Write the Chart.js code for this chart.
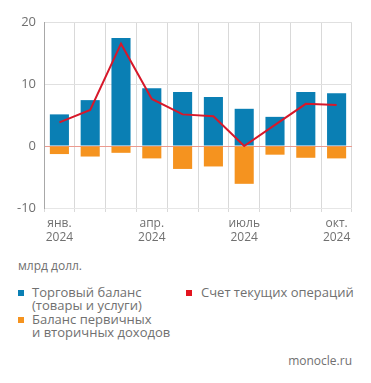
<!DOCTYPE html>
<html>
<head>
<meta charset="utf-8">
<script src="https://cdn.jsdelivr.net/npm/chart.js@4/dist/chart.umd.min.js"></script>
<style>
  html, body { margin: 0; padding: 0; background: #fff; }
  body { width: 371px; height: 383px; position: relative; overflow: hidden;
         font-family: "Open Sans", "Noto Sans", sans-serif; color: #707070; font-size: 13px; }
  #wrap { position: absolute; left: 0; top: 0; width: 371px; height: 250px; }
  .t { position: absolute; white-space: nowrap; line-height: 13px; }
  .sq { position: absolute; width: 6px; height: 6px; }
</style>
</head>
<body>
<div id="wrap"><canvas id="myChart" width="371" height="250"></canvas></div>

<div class="t" style="left:18px; top:259px; font-size:12px;">млрд долл.</div>

<div class="sq" style="left:18px; top:290px; background:#0a7fb4;"></div>
<div class="t" style="left:32px; top:286px;">Торговый баланс<br>(товары и услуги)</div>

<div class="sq" style="left:18px; top:317px; background:#f5931f;"></div>
<div class="t" style="left:32px; top:313px;">Баланс первичных<br>и вторичных доходов</div>

<div class="sq" style="left:186px; top:290px; background:#e3141f;"></div>
<div class="t" style="left:201px; top:286px;">Счет текущих операций</div>

<div class="t" style="right:19px; top:354px; font-size:12px;">monocle.ru</div>

<script>
// данные (млрд долл.)
let months = [["янв.", "2024"], "", "", ["апр.", "2024"], "", "", ["июль", "2024"], "", "", ["окт.", "2024"]];
let tradeBalance = [5.1, 7.4, 17.4, 9.3, 8.7, 7.9, 6.0, 4.7, 8.7, 8.5]; // торговый баланс
let incomeBalance = [-1.3, -1.7, -1.1, -2.0, -3.7, -3.3, -6.1, -1.4, -1.9, -2.0]; // первичные и вторичные доходы
let currentAccount = [3.8, 5.8, 16.5, 7.6, 5.1, 4.8, 0.0, 3.4, 6.8, 6.6]; // счет текущих операций
let yTicks = [-10, 0, 10, 20];

let Ctxt = document.getElementById("myChart").getContext("2d");
let tickColor = "#707070";

let ChartInst = new Chart(Ctxt, {
    type: "bar",
    data: {
        labels: months,
        datasets: [
            {
                type: "line",
                label: "Счет текущих операций",
                data: currentAccount,
                borderColor: "#d7182a",
                borderWidth: 2,
                pointRadius: 0,
                tension: 0,
                stack: "line",
                order: 0
            },
            {
                label: "Торговый баланс",
                data: tradeBalance,
                backgroundColor: "#0a7fb4",
                stack: "bars",
                order: 1,
                categoryPercentage: 1,
                barPercentage: 0.62
            },
            {
                label: "Баланс первичных и вторичных доходов",
                data: incomeBalance,
                backgroundColor: "#f5931f",
                stack: "bars",
                order: 1,
                categoryPercentage: 1,
                barPercentage: 0.62
            }
        ]
    },
    options: {
        responsive: false,
        animation: false,
        layout: { padding: { top: 22, right: 19, left: 0, bottom: 0 } },
        plugins: { legend: { display: false }, tooltip: { enabled: false } },
        scales: {
            x: {
                stacked: true,
                offset: true,
                grid: { offset: true, color: "#d9d9d9", lineWidth: 1, tickLength: 4, drawTicks: true },
                border: { display: false },
                ticks: {
                    autoSkip: false, maxRotation: 0, color: tickColor, padding: 4,
                    font: { family: "Open Sans", size: 12 }
                },
                afterFit: s => { s.height = 42; }
            },
            y: {
                stacked: true,
                min: -10, max: 20,
                afterBuildTicks: s => { s.ticks = yTicks.map(v => ({ value: v })); },
                grid: {
                    drawTicks: false,
                    color: ctx => ctx.tick.value === 0 ? "#ec9a8f" : (ctx.tick.value === -10 ? "#e6e6e6" : "#e0e0e0")
                },
                border: { display: true, color: "#a8a8a8", width: 1 },
                ticks: { color: tickColor, padding: 8, font: { family: "Open Sans", size: 13 } },
                afterFit: s => { s.width = 44; }
            }
        }
    }
});
</script>
</body>
</html>
